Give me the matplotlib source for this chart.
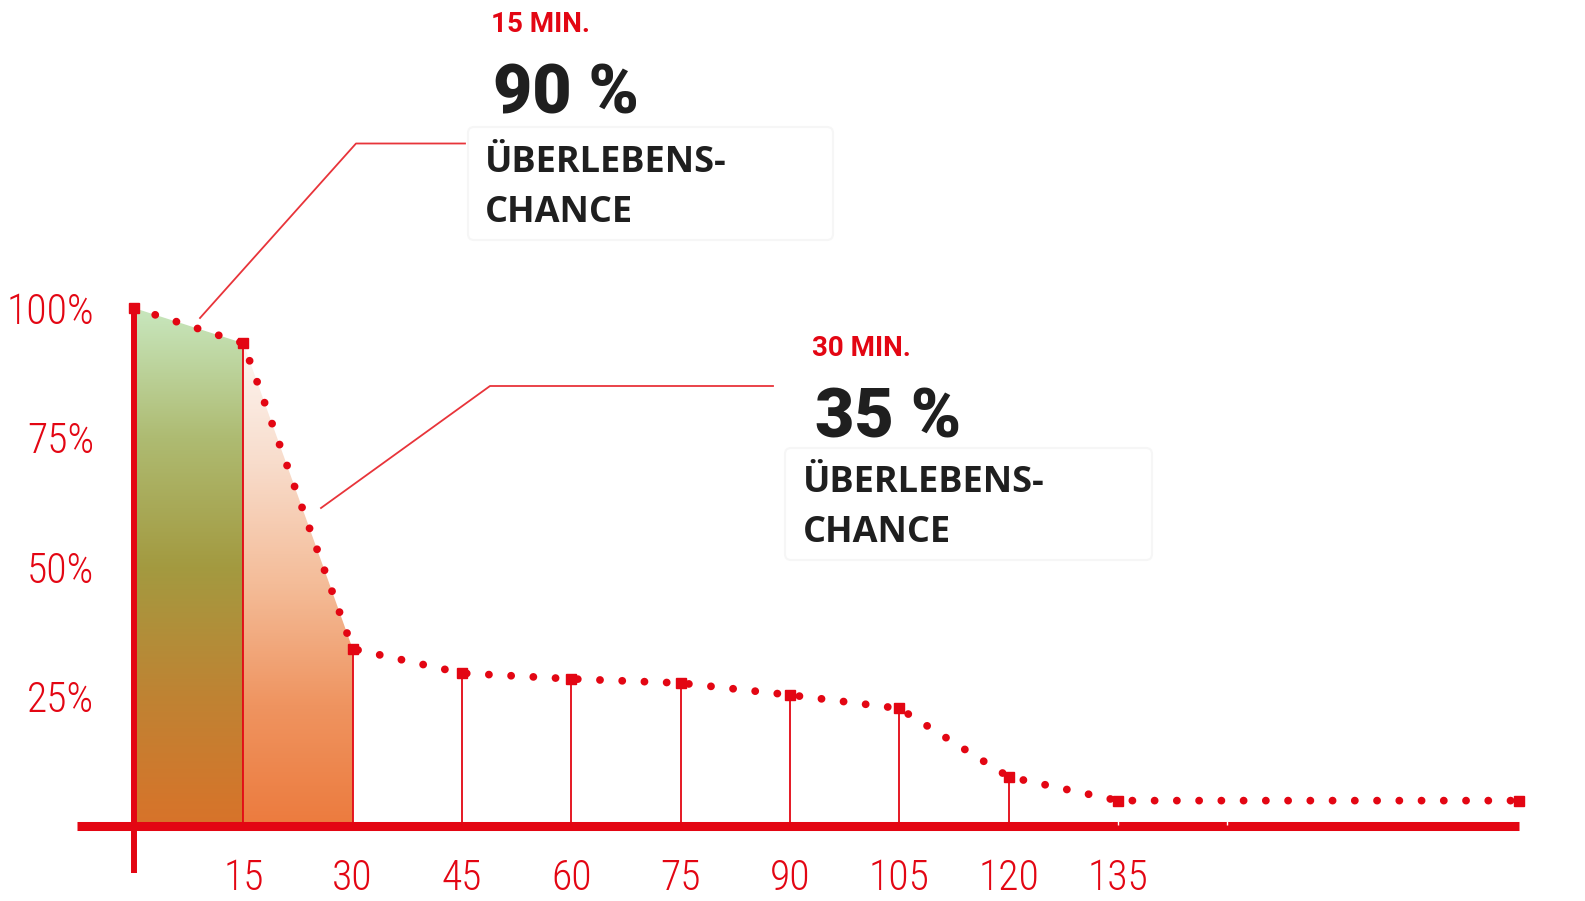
import matplotlib
matplotlib.use("Agg")
import matplotlib.pyplot as plt
import numpy as np
from matplotlib import font_manager
from matplotlib.colors import LinearSegmentedColormap
from matplotlib.patches import Polygon, FancyBboxPatch

# survival chance (%) by minutes until help arrives
minutes = [0, 15, 30, 45, 60, 75, 90, 105, 120, 135, 190]
survival = [100, 93.2, 34.2, 29.5, 28.4, 27.6, 25.3, 22.7, 9.5, 4.9, 4.9]
stem_minutes = [15, 30, 45, 60, 75, 90, 105, 120]
x_ticks = [15, 30, 45, 60, 75, 90, 105, 120, 135]
y_ticks = [25, 50, 75, 100]
y_labels = ["25%", "50%", "75%", "100%"]
callout_times = ["15 MIN.", "30 MIN."]
callout_values = ["90 %", "35 %"]
callout_lines = ["ÜBERLEBENS-", "CHANCE"]

RED = "#e30613"
DARK = "#1f1f1f"


def pick_font(candidates, default="DejaVu Sans"):
    names = {f.name for f in font_manager.fontManager.ttflist}
    for c in candidates:
        if c in names:
            return c
    return default


narrow = pick_font(["Liberation Sans Narrow", "DejaVu Sans Condensed", "Roboto Condensed"])
head = pick_font(["Roboto", "Lato"])
body = pick_font(["Open Sans", "Noto Sans"])

fig = plt.figure(figsize=(15.85, 9.01), dpi=100)
ax = fig.add_axes([0, 0, 1, 1])
ax.set_xlim(-18.39, 199.1)
ax.set_ylim(-14.48, 159.46)
ax.axis("off")


def gradient_fill(x0, x1, top, stops, poly):
    cmap = LinearSegmentedColormap.from_list("g", stops)
    grad = np.linspace(0, 1, 256).reshape(-1, 1)
    im = ax.imshow(grad, cmap=cmap, aspect="auto", origin="upper",
                   extent=[x0, x1, 0, top], zorder=1)
    patch = Polygon(poly, closed=True, fc="none", ec="none")
    ax.add_patch(patch)
    im.set_clip_path(patch)


# green area for the first 15 minutes, orange for 15-30
gradient_fill(minutes[0], minutes[1], survival[0],
              ["#c8e7be", "#aebb72", "#a39a40", "#bf8333", "#d8732a"],
              [(minutes[0], 0), (minutes[0], survival[0]),
               (minutes[1], survival[1]), (minutes[1], 0)])
gradient_fill(minutes[1], minutes[2], survival[1],
              ["#fdf6f2", "#f8dccb", "#f4bc98", "#ef9460", "#ec7b3e"],
              [(minutes[1], 0), (minutes[1], survival[1]),
               (minutes[2], survival[2]), (minutes[2], 0)])

# stems from the axis up to each value
stem_vals = [survival[minutes.index(m)] for m in stem_minutes]
ax.vlines(stem_minutes, 0, stem_vals, color=RED, lw=1.3, zorder=2)

# dotted curve
ax.plot(minutes, survival, color=RED, lw=5.6, linestyle=(0, (0.01, 2.85)),
        dash_capstyle="round", zorder=4)
ax.plot(minutes, survival, "s", color=RED, ms=6.5, zorder=5)

# axes
ax.hlines(0, -7.8, 190, color=RED, lw=6.5, zorder=3)
ax.vlines(0, -9.1, 100.8, color=RED, lw=4.3, zorder=3)
ax.vlines([135, 150], 0.2, 0.9, color="white", lw=1, zorder=3)

for m in x_ticks:
    ax.text(m, -12.4, str(m), ha="center", va="baseline", fontsize=30,
            fontweight="light", color=RED, family=narrow, zorder=6)
for v, lab in zip(y_ticks, y_labels):
    ax.text(-5.5, v, lab, ha="right", va="center_baseline", fontsize=30,
            fontweight="light", color=RED, family=narrow, zorder=6)

# callouts, drawn in pixel space
ann = fig.add_axes([0, 0, 1, 1], zorder=10)
ann.set_xlim(0, 1585)
ann.set_ylim(901, 0)
ann.axis("off")
ann.patch.set_alpha(0)

boxes = [(468, 127, 365, 113), (785, 448, 367, 112)]
leaders = [([200, 356, 465], [318, 143.5, 143.5]),
           ([321, 490, 773], [508, 386, 386])]
anchors = [(491, 32, 493, 113, 485, 172, 222),
           (812, 356, 815, 437, 803, 492, 542)]

for i in range(2):
    bx, by, bw, bh = boxes[i]
    ann.add_patch(FancyBboxPatch((bx, by), bw, bh, boxstyle="round,pad=0,rounding_size=6",
                                 fc="white", ec="#f6f6f6", lw=1.5))
    lx, ly = leaders[i]
    ann.plot(lx, ly, color="#e8343a", lw=1.3)
    tx, ty, vx, vy, cx, cy1, cy2 = anchors[i]
    ann.text(tx, ty, callout_times[i], fontsize=20, fontweight="bold",
             color=RED, family=head, va="baseline")
    ann.text(vx, vy, callout_values[i], fontsize=49, fontweight="black",
             color=DARK, family=head, va="baseline")
    ann.text(cx, cy1, callout_lines[0], fontsize=26, fontweight="bold",
             color=DARK, family=body, va="baseline")
    ann.text(cx, cy2, callout_lines[1], fontsize=26, fontweight="bold",
             color=DARK, family=body, va="baseline")

fig.savefig("out.png", dpi=100)
